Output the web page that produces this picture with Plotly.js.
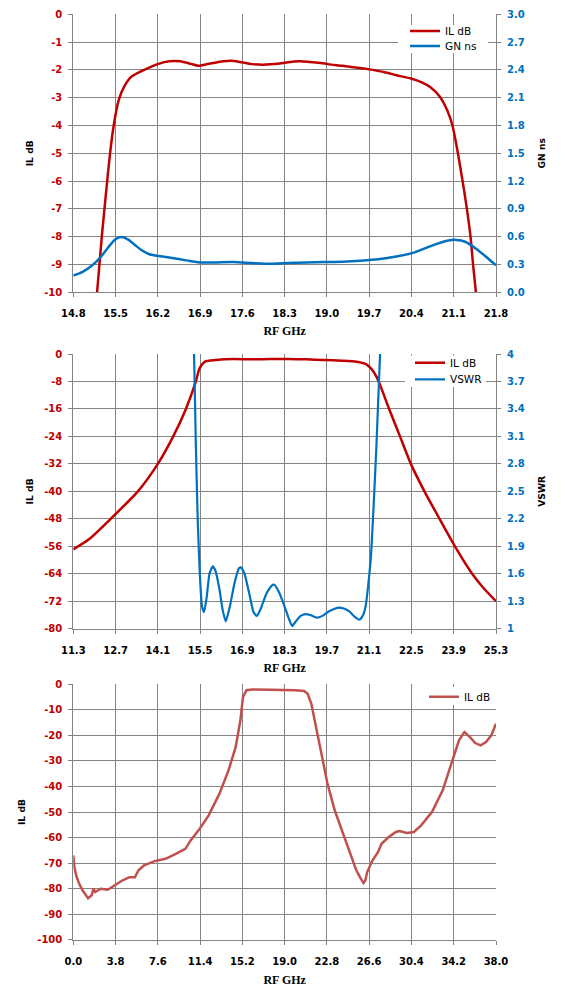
<!DOCTYPE html>
<html>
<head>
<meta charset="utf-8">
<script src="https://cdn.plot.ly/plotly-3.0.1.min.js"></script>
<style>
html, body { margin: 0; padding: 0; background: #ffffff; }
#chart { width: 565px; height: 1003px; }
</style>
</head>
<body>
<div id="chart"></div>
<script>
// ---------- Chart 1 : IL dB and GN ns, 14.8 - 21.8 GHz ----------
const freqIL1 = [15.194, 15.272, 15.361, 15.409, 15.469, 15.553, 15.642, 15.762, 15.911, 16.03, 16.21, 16.39, 16.568, 16.747, 16.867, 17.046, 17.285, 17.404, 17.583, 17.762, 17.942, 18.18, 18.36, 18.54, 18.72, 18.9, 19.017, 19.257, 19.436, 19.675, 19.974, 20.153, 20.392, 20.571, 20.72, 20.87, 20.99, 21.079, 21.169, 21.247, 21.318, 21.378, 21.42, 21.467];
const ilDB1 = [-10, -8.0, -6.0, -5.0, -4.0, -3.08, -2.6, -2.24, -2.06, -1.94, -1.78, -1.69, -1.69, -1.78, -1.85, -1.78, -1.69, -1.67, -1.72, -1.79, -1.81, -1.78, -1.72, -1.69, -1.71, -1.75, -1.79, -1.85, -1.9, -1.97, -2.09, -2.19, -2.31, -2.45, -2.63, -2.96, -3.44, -4.0, -5.0, -6.0, -7.0, -8.0, -9.0, -10];
const freqGN = [14.8, 14.955, 15.105, 15.254, 15.373, 15.493, 15.594, 15.702, 15.82, 15.94, 16.06, 16.21, 16.39, 16.57, 16.75, 16.93, 17.17, 17.46, 17.76, 18.06, 18.36, 18.66, 18.96, 19.26, 19.555, 19.854, 20.15, 20.45, 20.75, 20.99, 21.14, 21.29, 21.47, 21.65, 21.8];
const gnNS = [0.18, 0.22, 0.285, 0.38, 0.48, 0.57, 0.595, 0.57, 0.51, 0.45, 0.41, 0.39, 0.375, 0.355, 0.335, 0.32, 0.322, 0.325, 0.315, 0.308, 0.315, 0.322, 0.325, 0.33, 0.34, 0.355, 0.385, 0.43, 0.505, 0.555, 0.565, 0.545, 0.47, 0.375, 0.29];
const x1Ticks = [14.8, 15.5, 16.2, 16.9, 17.6, 18.3, 19.0, 19.7, 20.4, 21.1, 21.8];
const x1Labels = ["14.8", "15.5", "16.2", "16.9", "17.6", "18.3", "19.0", "19.7", "20.4", "21.1", "21.8"];
const y1Ticks = [0, -1, -2, -3, -4, -5, -6, -7, -8, -9, -10];
const y1Labels = ["0", "-1", "-2", "-3", "-4", "-5", "-6", "-7", "-8", "-9", "-10"];
const gnTicks = [0, 0.3, 0.6, 0.9, 1.2, 1.5, 1.8, 2.1, 2.4, 2.7, 3.0];
const gnLabels = ["0.0", "0.3", "0.6", "0.9", "1.2", "1.5", "1.8", "2.1", "2.4", "2.7", "3.0"];

// ---------- Chart 2 : IL dB and VSWR, 11.3 - 25.3 GHz ----------
const freqIL2 = [11.3, 11.83, 12.54, 13.44, 14.1, 14.61, 15.03, 15.36, 15.48, 15.66, 16.01, 16.61, 17.21, 17.81, 18.41, 19.01, 19.6, 20.2, 20.68, 20.98, 21.16, 21.34, 21.46, 21.76, 22.12, 22.48, 22.93, 23.43, 23.94, 24.51, 24.87, 25.3];
const ilDB2 = [-56.9, -53.9, -48, -40, -32, -24, -16, -8, -4.2, -2.2, -1.75, -1.46, -1.55, -1.46, -1.46, -1.55, -1.75, -1.94, -2.23, -2.9, -4.2, -6.6, -9.0, -16, -24, -32, -40, -48, -56, -64, -68, -72];
const freqVSWR = [15.3, 15.36, 15.42, 15.49, 15.56, 15.63, 15.72, 15.81, 15.92, 16.01, 16.13, 16.25, 16.35, 16.49, 16.64, 16.79, 16.85, 16.97, 17.15, 17.27, 17.38, 17.51, 17.69, 17.87, 17.96, 18.11, 18.29, 18.45, 18.55, 18.67, 18.83, 18.99, 19.15, 19.37, 19.55, 19.72, 19.9, 20.08, 20.26, 20.44, 20.62, 20.78, 20.9, 20.98, 21.06, 21.16, 21.24, 21.34, 21.46];
const vswr = [4.0, 3.0, 2.2, 1.6, 1.25, 1.18, 1.35, 1.6, 1.68, 1.63, 1.45, 1.2, 1.08, 1.25, 1.5, 1.66, 1.67, 1.6, 1.35, 1.18, 1.14, 1.22, 1.38, 1.47, 1.48, 1.4, 1.25, 1.1, 1.03, 1.08, 1.14, 1.16, 1.15, 1.12, 1.14, 1.18, 1.21, 1.23, 1.22, 1.19, 1.13, 1.1, 1.15, 1.24, 1.45, 1.8, 2.3, 3.0, 4.0];
const x2Ticks = [11.3, 12.7, 14.1, 15.5, 16.9, 18.3, 19.7, 21.1, 22.5, 23.9, 25.3];
const x2Labels = ["11.3", "12.7", "14.1", "15.5", "16.9", "18.3", "19.7", "21.1", "22.5", "23.9", "25.3"];
const y2Ticks = [0, -8, -16, -24, -32, -40, -48, -56, -64, -72, -80];
const y2Labels = ["0", "-8", "-16", "-24", "-32", "-40", "-48", "-56", "-64", "-72", "-80"];
const vswrTicks = [1, 1.3, 1.6, 1.9, 2.2, 2.5, 2.8, 3.1, 3.4, 3.7, 4];
const vswrLabels = ["1", "1.3", "1.6", "1.9", "2.2", "2.5", "2.8", "3.1", "3.4", "3.7", "4"];

// ---------- Chart 3 : IL dB wideband, 0 - 38 GHz ----------
const freqIL3 = [0, 0.1, 0.26, 0.52, 0.84, 1.17, 1.33, 1.65, 1.81, 1.97, 2.46, 3.1, 3.76, 4.4, 5.05, 5.54, 5.86, 6.35, 7.32, 8.29, 9.26, 10.07, 10.55, 11.36, 12.17, 13.14, 13.95, 14.6, 15.02, 15.25, 15.57, 16.06, 17.68, 18.97, 19.94, 20.75, 21.07, 21.4, 21.88, 22.37, 22.85, 23.5, 24.15, 24.8, 25.44, 25.77, 26.09, 26.25, 26.42, 26.9, 27.39, 27.71, 28.36, 29.0, 29.33, 29.98, 30.62, 31.27, 32.24, 33.21, 34.02, 34.67, 35.16, 35.64, 36.13, 36.61, 37.1, 37.58, 38.0];
const ilDB3 = [-67, -71.5, -74.8, -78, -80.7, -82.6, -83.7, -82.6, -80, -81.3, -80, -80.4, -78.7, -76.8, -75.5, -75.5, -72.8, -70.9, -69.2, -68.3, -66.3, -64.4, -61.1, -56.5, -51.3, -42.8, -33.7, -24.5, -14.1, -5, -2.3, -2.0, -2.1, -2.1, -2.3, -2.6, -3.7, -7.6, -18, -28.5, -38.9, -49.3, -57.2, -65, -72.8, -75.5, -77.8, -76.8, -73.5, -68.9, -65.7, -62.4, -59.8, -57.8, -57.4, -58.2, -57.8, -55.2, -50, -41.5, -31, -21.9, -18.7, -20.6, -23, -23.9, -22.6, -20, -15.4];
const x3Ticks = [0, 3.8, 7.6, 11.4, 15.2, 19.0, 22.8, 26.6, 30.4, 34.2, 38.0];
const x3Labels = ["0.0", "3.8", "7.6", "11.4", "15.2", "19.0", "22.8", "26.6", "30.4", "34.2", "38.0"];
const y3Ticks = [0, -10, -20, -30, -40, -50, -60, -70, -80, -90, -100];
const y3Labels = ["0", "-10", "-20", "-30", "-40", "-50", "-60", "-70", "-80", "-90", "-100"];

// ---------- layout helpers ----------
const W = 565, H = 1003;
const px = v => v / W;
const py = v => 1 - v / H;
const xDom = [px(73.3), px(496)];
const yDom = (top, bottom) => [py(bottom), py(top)];

const RED = '#C00000', BLUE = '#0070C0', RED3 = '#C0504D', GRID = '#848484';
const tickFont = c => ({ family: 'DejaVu Sans', size: 10, weight: 'bold', color: c });
const xTitle = s => ({ text: 'RF GHz', standoff: s, font: { family: 'Liberation Serif', size: 12, weight: 'bold', color: '#000' } });
const yTitle = (t, s) => ({ text: t, standoff: s, font: { family: 'DejaVu Sans', size: 9.2, weight: 'bold', color: '#000' } });

function xAxis(range, vals, labels, anchor, standoff) {
  return {
    domain: xDom, anchor: anchor, range: range, tickmode: 'array', tickvals: vals, ticktext: labels,
    showgrid: true, gridcolor: GRID, gridwidth: 1, zeroline: false,
    showline: true, linecolor: GRID, linewidth: 1, ticks: 'outside', ticklen: 4, tickcolor: GRID,
    tickfont: tickFont('#000'), ticklabelstandoff: 8, title: xTitle(standoff), automargin: false, fixedrange: true
  };
}
function yAxis(range, vals, labels, anchor, dom, title, standoff) {
  return {
    domain: dom, anchor: anchor, range: range, tickmode: 'array', tickvals: vals, ticktext: labels,
    showgrid: true, gridcolor: GRID, gridwidth: 1, zeroline: false,
    showline: true, linecolor: GRID, linewidth: 1, ticks: 'outside', ticklen: 4, tickcolor: GRID,
    tickfont: tickFont(RED), ticklabelstandoff: 4, title: yTitle(title, standoff), automargin: false, fixedrange: true
  };
}
function yRight(range, vals, labels, anchor, overlay, title, standoff) {
  return {
    overlaying: overlay, side: 'right', anchor: anchor, range: range, tickmode: 'array', tickvals: vals, ticktext: labels,
    showgrid: false, zeroline: false,
    showline: true, linecolor: GRID, linewidth: 1, ticks: 'outside', ticklen: 4, tickcolor: GRID,
    tickfont: tickFont(BLUE), ticklabelstandoff: 4, title: yTitle(title, standoff), automargin: false, fixedrange: true
  };
}
const legendAt = (x, yTop) => ({
  x: px(x), y: py(yTop), xanchor: 'left', yanchor: 'top', bgcolor: 'rgba(0,0,0,0)', borderwidth: 0,
  font: { family: 'DejaVu Sans', size: 10.5, color: '#000' }
});

const traces = [
  { x: freqIL1, y: ilDB1, xaxis: 'x', yaxis: 'y', name: 'IL dB', mode: 'lines', line: { color: RED, width: 2.5, shape: 'spline', smoothing: 0.7 }, legend: 'legend' },
  { x: freqGN, y: gnNS, xaxis: 'x', yaxis: 'y2', name: 'GN ns', mode: 'lines', line: { color: BLUE, width: 2.5, shape: 'spline', smoothing: 0.7 }, legend: 'legend2' },
  { x: freqIL2, y: ilDB2, xaxis: 'x2', yaxis: 'y3', name: 'IL dB', mode: 'lines', line: { color: RED, width: 2.5, shape: 'spline', smoothing: 0.6 }, legend: 'legend3' },
  { x: freqVSWR, y: vswr, xaxis: 'x2', yaxis: 'y4', name: 'VSWR', mode: 'lines', line: { color: BLUE, width: 2.2, shape: 'spline', smoothing: 0.5 }, legend: 'legend4' },
  { x: freqIL3, y: ilDB3, xaxis: 'x3', yaxis: 'y5', name: 'IL dB', mode: 'lines', line: { color: RED3, width: 2.5 }, legend: 'legend5' }
];

const layout = {
  width: W, height: H, margin: { l: 0, r: 0, t: 0, b: 0 },
  paper_bgcolor: '#ffffff', plot_bgcolor: '#ffffff',
  font: { family: 'DejaVu Sans', size: 10, color: '#000' },
  showlegend: true,
  xaxis: xAxis([14.8, 21.8], x1Ticks, x1Labels, 'y', 8),
  yaxis: yAxis([-10, 0], y1Ticks, y1Labels, 'x', yDom(14.4, 292.2), 'IL dB', 8),
  yaxis2: yRight([0, 3], gnTicks, gnLabels, 'x', 'y', 'GN ns', 14),
  xaxis2: xAxis([11.3, 25.3], x2Ticks, x2Labels, 'y3', 8),
  yaxis3: yAxis([-80, 0], y2Ticks, y2Labels, 'x2', yDom(354, 628.7), 'IL dB', 8),
  yaxis4: yRight([1, 4], vswrTicks, vswrLabels, 'x2', 'y3', 'VSWR', 14),
  xaxis3: xAxis([0, 38], x3Ticks, x3Labels, 'y5', 9),
  yaxis5: yAxis([-100, 0], y3Ticks, y3Labels, 'x3', yDom(684.3, 939.8), 'IL dB', 10),
  legend: legendAt(405, 16.5),
  legend2: legendAt(405, 31.5),
  legend3: legendAt(410, 348.2),
  legend4: legendAt(410, 364.8),
  legend5: legendAt(424, 682.2),
  shapes: [
    { type: 'rect', xref: 'paper', yref: 'paper', x0: px(398), x1: px(488), y0: py(53), y1: py(25), fillcolor: '#ffffff', line: { width: 0 }, layer: 'above' },
    { type: 'rect', xref: 'paper', yref: 'paper', x0: px(405), x1: px(486), y0: py(387), y1: py(355.5), fillcolor: '#ffffff', line: { width: 0 }, layer: 'above' },
    { type: 'rect', xref: 'paper', yref: 'paper', x0: px(420), x1: px(490), y0: py(705), y1: py(687), fillcolor: '#ffffff', line: { width: 0 }, layer: 'above' }
  ]
};

Plotly.newPlot('chart', traces, layout, { displayModeBar: false, staticPlot: true });
</script>
</body>
</html>
